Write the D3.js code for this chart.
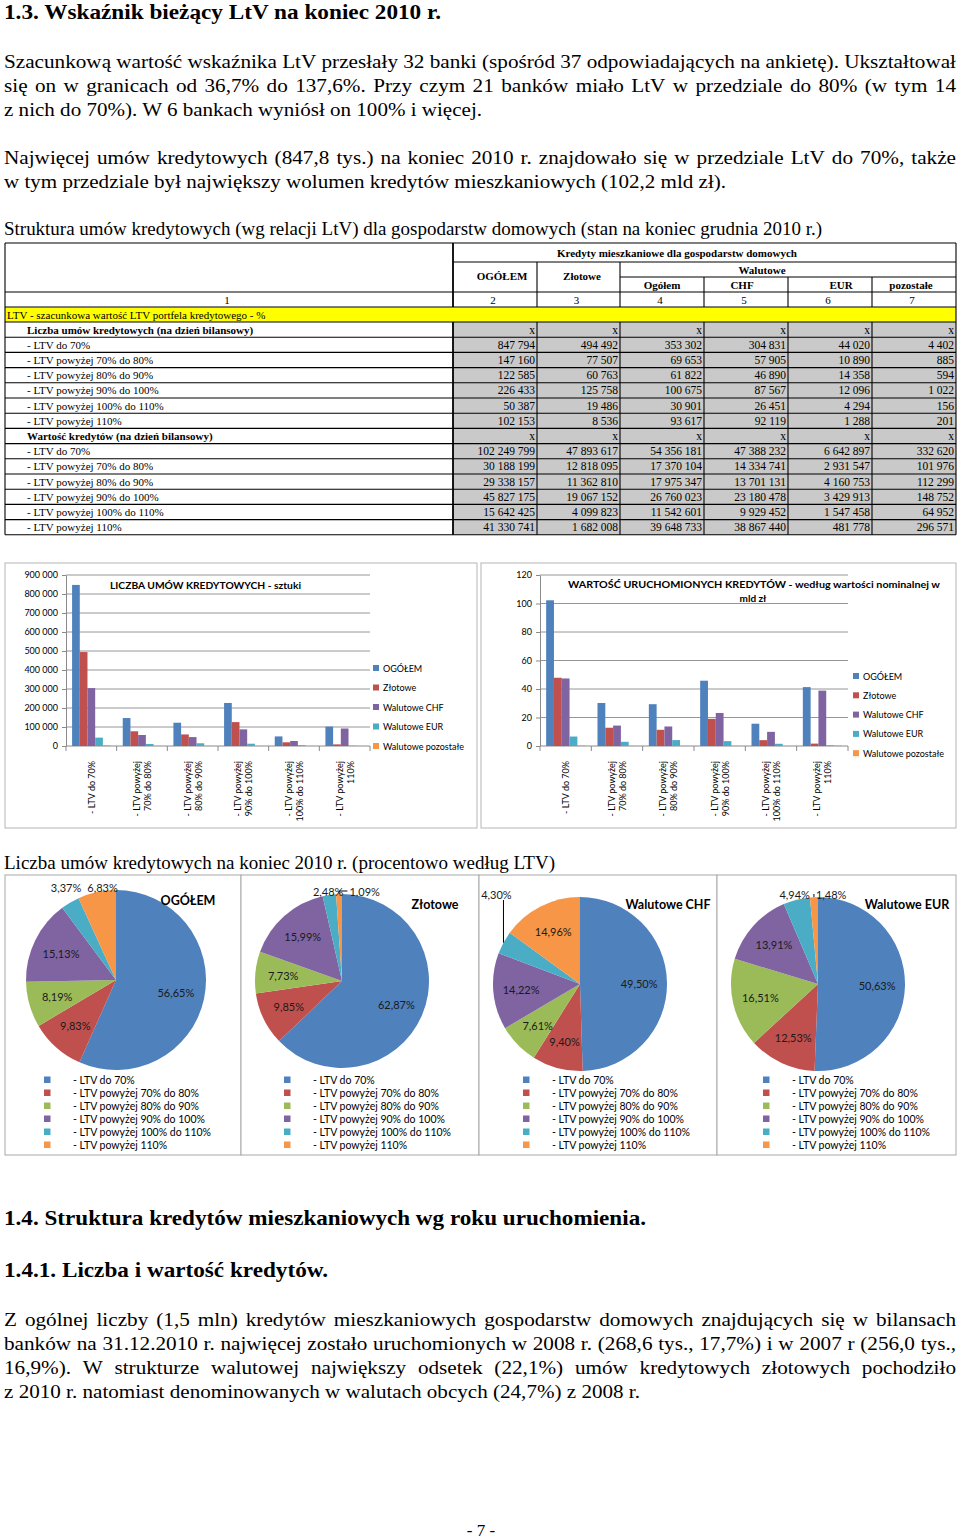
<!DOCTYPE html>
<html><head><meta charset="utf-8">
<script src="https://cdn.jsdelivr.net/npm/d3@7"></script>
<style>body{margin:0;background:#fff} svg{display:block}</style>
</head><body><svg id="page" width="960" height="1539"></svg>
<script>
// ---------------- DATA ----------------
const ltvLabels = ["- LTV do 70%","- LTV powyżej 70% do 80%","- LTV powyżej 80% do 90%","- LTV powyżej 90% do 100%","- LTV powyżej 100% do 110%","- LTV powyżej 110%"];
const ltvAxisLines = [["- LTV do 70%"],["- LTV powyżej","70% do 80%"],["- LTV powyżej","80% do 90%"],["- LTV powyżej","90% do 100%"],["- LTV powyżej","100% do 110%"],["- LTV powyżej","110%"]];
const colNumbers = ["1","2","3","4","5","6","7"];
const countOgolem    = [847794,147160,122585,226433,50387,102153];
const countZlotowe   = [494492,77507,60763,125758,19486,8536];
const countWalutowe  = [353302,69653,61822,100675,30901,93617];
const countCHF       = [304831,57905,46890,87567,26451,92119];
const countEUR       = [44020,10890,14358,12096,4294,1288];
const countPozostale = [4402,885,594,1022,156,201];
const valueOgolem    = [102249799,30188199,29338157,45827175,15642425,41330741];
const valueZlotowe   = [47893617,12818095,11362810,19067152,4099823,1682008];
const valueWalutowe  = [54356181,17370104,17975347,26760023,11542601,39648733];
const valueCHF       = [47388232,14334741,13701131,23180478,9929452,38867440];
const valueEUR       = [6642897,2931547,4160753,3429913,1547458,481778];
const valuePozostale = [332620,101976,112299,148752,64952,296571];
const barSeries = ["OGÓŁEM","Złotowe","Walutowe CHF","Walutowe EUR","Walutowe pozostałe"];
const countTicks = [0,100000,200000,300000,400000,500000,600000,700000,800000,900000];
const valueTicks = [0,20,40,60,80,100,120];
const pieTitles = ["OGÓŁEM","Złotowe","Walutowe CHF","Walutowe EUR"];

// ---------------- STYLE ----------------
const SERIF = "'Liberation Serif','Times New Roman',serif";
const SANS = "Lato,'Open Sans',sans-serif";
const barColors = ["#4F81BD","#C0504D","#8064A2","#4BACC6","#F79646"];
const pieColors = ["#4F81BD","#C0504D","#9BBB59","#8064A2","#4BACC6","#F79646"];
const pl = d3.formatLocale({decimal:",", thousands:" ", grouping:[3], currency:["",""]});
const fmtInt = pl.format(",d");
const fmtPct = pl.format(".2%");

const svg = d3.select("#page");
svg.append("rect").attr("width",960).attr("height",1539).attr("fill","#fff");

function natWidth(text, size, weight, family) {
  const t = svg.append("text").attr("font-family", family||SERIF).attr("font-size", size)
    .attr("font-weight", weight||"normal").text(text);
  const w = t.node().getComputedTextLength(); t.remove(); return w;
}

// ---------------- PAGE TEXT ----------------
const pageLines = [
  {t:"1.3. Wskaźnik bieżący LtV na koniec 2010 r.", y:19, size:21, bold:true, w:437},
  {t:"Szacunkową wartość wskaźnika LtV przesłały 32 banki (spośród 37 odpowiadających na ankietę). Ukształtował", y:68, size:19, just:true},
  {t:"się on w granicach od 36,7% do 137,6%. Przy czym 21 banków miało LtV w przedziale do 80% (w tym 14", y:92, size:19, just:true},
  {t:"z nich do 70%). W 6 bankach wyniósł on 100% i więcej.", y:116, size:19, w:478},
  {t:"Najwięcej umów kredytowych (847,8 tys.) na koniec 2010 r. znajdowało się w przedziale LtV do 70%, także", y:164, size:19, just:true},
  {t:"w tym przedziale był największy wolumen kredytów mieszkaniowych (102,2 mld zł).", y:188, size:19, w:722},
  {t:"Struktura umów kredytowych (wg relacji LtV) dla gospodarstw domowych (stan na koniec grudnia 2010 r.)", y:235, size:19, w:818},
  {t:"Liczba umów kredytowych na koniec 2010 r. (procentowo według LTV)", y:869, size:19, w:551},
  {t:"1.4. Struktura kredytów mieszkaniowych wg roku uruchomienia.", y:1225, size:21, bold:true, w:642},
  {t:"1.4.1. Liczba i wartość kredytów.", y:1277, size:21, bold:true, w:324},
  {t:"Z ogólnej liczby (1,5 mln) kredytów mieszkaniowych gospodarstw domowych znajdujących się w bilansach", y:1326, size:19, just:true},
  {t:"banków na 31.12.2010 r. najwięcej zostało uruchomionych w 2008 r. (268,6 tys., 17,7%) i w 2007 r (256,0 tys.,", y:1350, size:19, just:true},
  {t:"16,9%). W strukturze walutowej największy odsetek (22,1%) umów kredytowych złotowych pochodziło", y:1374, size:19, just:true},
  {t:"z 2010 r. natomiast denominowanych w walutach obcych (24,7%) z 2008 r.", y:1398, size:19, w:636}
];
const justLines = pageLines.filter(L => L.just);
const sj = d3.min(justLines, L => 952 / natWidth(L.t, L.size));
pageLines.forEach(L => {
  const weight = L.bold ? "bold" : "normal";
  if (L.just) {
    const words = L.t.split(" ");
    const ws = words.map(w => natWidth(w, L.size, weight) * sj);
    const gap = (952 - d3.sum(ws)) / (words.length - 1);
    let x = 4;
    words.forEach((w, i) => {
      svg.append("text").attr("x", x).attr("y", L.y).attr("font-family", SERIF).attr("font-size", L.size)
        .attr("font-weight", weight).attr("textLength", ws[i]).attr("lengthAdjust", "spacingAndGlyphs").text(w);
      x += ws[i] + gap;
    });
  } else {
    svg.append("text").attr("x", 4).attr("y", L.y).attr("font-family", SERIF).attr("font-size", L.size)
      .attr("font-weight", weight).attr("textLength", L.w).attr("lengthAdjust", "spacingAndGlyphs").text(L.t);
  }
});
svg.append("text").attr("x", 481).attr("y", 1536).attr("text-anchor","middle").attr("font-family", SERIF)
  .attr("font-size", 17).text("- 7 -");

// ---------------- TABLE ----------------
(function drawTable(){
  const g = svg.append("g");
  const L = 5, R = 956, LR = 453;
  const cols = [453,537,620,704,788,872,956];
  const yTop = 243, yH1 = 262, yH2 = 277, yNum = 292, yYel = 307, yData = 322, rowH = 15.2;
  const rows = [{label:"Liczba umów kredytowych (na dzień bilansowy)", bold:true, vals:null}];
  ltvLabels.forEach((l,i) => rows.push({label:l, vals:[countOgolem[i],countZlotowe[i],countWalutowe[i],countCHF[i],countEUR[i],countPozostale[i]]}));
  rows.push({label:"Wartość kredytów (na dzień bilansowy)", bold:true, vals:null});
  ltvLabels.forEach((l,i) => rows.push({label:l, vals:[valueOgolem[i],valueZlotowe[i],valueWalutowe[i],valueCHF[i],valueEUR[i],valuePozostale[i]]}));
  const yBot = yData + rows.length * rowH;

  g.append("rect").attr("x", LR).attr("y", yData).attr("width", R - LR).attr("height", yBot - yData).attr("fill", "#c9c9c9");
  g.append("rect").attr("x", L).attr("y", yYel).attr("width", R - L).attr("height", yData - yYel).attr("fill", "#ffff00");

  const line = (x1,y1,x2,y2,w) => g.append("line").attr("x1",x1).attr("y1",y1).attr("x2",x2).attr("y2",y2)
    .attr("stroke","#000").attr("stroke-width", w||1.1);
  line(L, yTop, R, yTop); line(L, yBot, R, yBot); line(L, yTop, L, yBot); line(R, yTop, R, yBot);
  line(LR, yH1, R, yH1); line(cols[2], yH2, R, yH2);
  [yNum, yYel, yData].forEach(y => line(L, y, R, y));
  rows.forEach((r,i) => { if (i>0) line(L, yData + i*rowH, R, yData + i*rowH); });
  line(LR, yTop, LR, yYel, 1.8); line(LR, yData, LR, yBot, 1.8);
  [cols[1], cols[2]].forEach(x => { line(x, yH1, x, yYel); line(x, yData, x, yBot); });
  [cols[3], cols[4], cols[5]].forEach(x => { line(x, yH2, x, yYel); line(x, yData, x, yBot); });

  const txt = (x, y, s, opt) => g.append("text").attr("x", x).attr("y", y).attr("font-family", SERIF)
    .attr("font-size", (opt&&opt.size)||11).attr("font-weight", (opt&&opt.bold)?"bold":"normal")
    .attr("text-anchor", (opt&&opt.anchor)||"start").text(s);
  txt(677, (yTop+yH1)/2 + 4, "Kredyty mieszkaniowe dla gospodarstw domowych", {bold:true, anchor:"middle"});
  txt(502, (yH1+yNum)/2 + 3, "OGÓŁEM", {bold:true, anchor:"middle"});
  txt(582, (yH1+yNum)/2 + 3, "Złotowe", {bold:true, anchor:"middle"});
  txt(762, (yH1+yH2)/2 + 4, "Walutowe", {bold:true, anchor:"middle"});
  const subCenters = [662, 742, 841, 911];
  ["Ogółem","CHF","EUR","pozostałe"].forEach((s,i) => txt(subCenters[i], (yH2+yNum)/2 + 4, s, {bold:true, anchor:"middle"}));
  const numEdges = [L].concat(cols);
  colNumbers.forEach((s,i) => txt((numEdges[i]+numEdges[i+1])/2 - 2, (yNum+yYel)/2 + 4, s, {anchor:"middle"}));
  txt(7, (yYel+yData)/2 + 4, "LTV - szacunkowa wartość LTV portfela kredytowego - %");
  rows.forEach((r,i) => {
    const cy = yData + i*rowH + rowH/2 + 4;
    txt(27, cy, r.label, {bold:r.bold});
    for (let c = 0; c < 6; c++) {
      txt(cols[c+1] - 2, cy, r.vals ? fmtInt(r.vals[c]) : "x", {anchor:"end", size:11.5});
    }
  });
})();

// ---------------- BAR CHARTS ----------------
function drawBarChart(cfg) {
  const g = svg.append("g");
  g.append("rect").attr("x", cfg.box[0]).attr("y", cfg.box[1]).attr("width", cfg.box[2]).attr("height", cfg.box[3])
    .attr("fill", "#fff").attr("stroke", "#b5b5b5").attr("stroke-width", 1);
  const x = d3.scaleBand().domain(d3.range(ltvAxisLines.length)).range([cfg.x0, cfg.x1]).padding(0);
  const bw = x.bandwidth();
  const xi = d3.scaleBand().domain(barSeries).range([bw*0.12, bw*0.88]);
  const y = d3.scaleLinear().domain([0, cfg.max]).range([cfg.y0, cfg.y1]);
  g.selectAll("line.grid").data(cfg.ticks.filter(t => t > 0)).join("line").attr("class","grid")
    .attr("x1", cfg.x0).attr("x2", cfg.x1).attr("y1", d => y(d)).attr("y2", d => y(d))
    .attr("stroke", "#8a8a8a").attr("stroke-width", 0.9);
  const yg = g.append("g").attr("transform", `translate(${cfg.x0},0)`)
    .call(d3.axisLeft(y).tickValues(cfg.ticks).tickFormat(cfg.fmt).tickSize(4).tickSizeOuter(0).tickPadding(4));
  yg.select(".domain").attr("stroke", "#8a8a8a");
  yg.selectAll(".tick line").attr("stroke", "#8a8a8a");
  yg.selectAll(".tick text").attr("font-family", SANS).attr("font-size", 9).attr("fill", "#000");
  g.append("line").attr("x1", cfg.x0).attr("x2", cfg.x1).attr("y1", y(0)).attr("y2", y(0)).attr("stroke", "#8a8a8a");
  g.selectAll("line.xt").data(d3.range(ltvAxisLines.length + 1)).join("line").attr("class","xt")
    .attr("x1", d => cfg.x0 + d*x.step()).attr("x2", d => cfg.x0 + d*x.step())
    .attr("y1", y(0)).attr("y2", y(0) + 5).attr("stroke", "#8a8a8a");
  cfg.series.forEach((arr, s) => {
    g.selectAll(null).data(arr).join("rect")
      .attr("x", (d,i) => x(i) + xi(barSeries[s])).attr("width", xi.bandwidth())
      .attr("y", d => y(d)).attr("height", d => y(0) - y(d)).attr("fill", barColors[s]);
  });
  ltvAxisLines.forEach((lines, i) => {
    const cx = x(i) + bw/2;
    lines.forEach((ln, k) => {
      const off = (k - (lines.length - 1)/2) * 11;
      g.append("text").attr("transform", `translate(${cx + off},${cfg.labelY}) rotate(-90)`)
        .attr("text-anchor", "end").attr("dominant-baseline", "central")
        .attr("font-family", SANS).attr("font-size", 9).attr("fill", "#000").text(ln);
    });
  });
  cfg.title.forEach(tl => {
    g.append("text").attr("x", tl.x).attr("y", tl.y).attr("text-anchor", tl.anchor || "start")
      .attr("font-family", SANS).attr("font-size", 10).attr("font-weight", "bold")
      .attr("textLength", tl.w || null).attr("lengthAdjust", "spacingAndGlyphs").text(tl.t);
  });
  barSeries.forEach((s, i) => {
    const ly = cfg.legend.y + i * cfg.legend.dy;
    g.append("rect").attr("x", cfg.legend.x).attr("y", ly - 3).attr("width", 6).attr("height", 6).attr("fill", barColors[i]);
    g.append("text").attr("x", cfg.legend.x + 10).attr("y", ly).attr("dominant-baseline", "central")
      .attr("font-family", SANS).attr("font-size", 9).attr("fill", "#000").text(s);
  });
}

drawBarChart({
  box:[5,563,472,265], x0:66, x1:370, y0:746, y1:575, max:900000, ticks:countTicks, fmt:fmtInt,
  series:[countOgolem, countZlotowe, countCHF, countEUR, countPozostale],
  labelY:761,
  title:[{t:"LICZBA UMÓW KREDYTOWYCH - sztuki", x:110, y:589, w:191}],
  legend:{x:373, y:668, dy:19.5}
});
drawBarChart({
  box:[481,563,475,265], x0:540, x1:848, y0:746, y1:575, max:120, ticks:valueTicks, fmt:d3.format("d"),
  series:[valueOgolem, valueZlotowe, valueCHF, valueEUR, valuePozostale].map(a => a.map(v => v/1e6)),
  labelY:761,
  title:[{t:"WARTOŚĆ URUCHOMIONYCH KREDYTÓW - według wartości nominalnej w", x:754, y:588, anchor:"middle", w:372},
         {t:"mld zł", x:753, y:602, anchor:"middle"}],
  legend:{x:853, y:676, dy:19.3}
});

// ---------------- PIE CHARTS ----------------
const pieData = [countOgolem, countZlotowe, countCHF, countEUR];
const pieLayout = [
  {px:5,   pw:236, cx:116, cy:980, r:90, tx:188, ty:905, lx:44},
  {px:241, pw:238, cx:342, cy:981, r:87, tx:435, ty:909, lx:284},
  {px:479, pw:238, cx:580, cy:984, r:87, tx:668, ty:909, lx:523},
  {px:717, pw:239, cx:818, cy:984, r:87, tx:907, ty:909, lx:763}
];
pieData.forEach((vals, k) => {
  const P = pieLayout[k];
  const g = svg.append("g");
  g.append("rect").attr("x", P.px).attr("y", 875).attr("width", P.pw).attr("height", 280)
    .attr("fill", "#fff").attr("stroke", "#a8a8a8");
  const total = d3.sum(vals);
  const arcs = d3.pie().sort(null)(vals);
  const arc = d3.arc().innerRadius(0).outerRadius(P.r);
  const inner = d3.arc().innerRadius(P.r*0.68).outerRadius(P.r*0.68);
  const gp = g.append("g").attr("transform", `translate(${P.cx},${P.cy})`);
  gp.selectAll("path").data(arcs).join("path").attr("d", arc).attr("fill", (d,i) => pieColors[i]);
  const outs = [];
  arcs.forEach((a, i) => {
    const share = a.value / total;
    const label = fmtPct(share);
    const mid = (a.startAngle + a.endAngle) / 2;
    if (share >= 0.07) {
      const c = inner.centroid(a);
      gp.append("text").attr("x", c[0]).attr("y", c[1]).attr("text-anchor", "middle").attr("dominant-baseline", "central")
        .attr("font-family", SANS).attr("font-size", 11).attr("fill", "#1a1a1a").text(label);
    } else {
      const nx = (P.r + 8) * Math.sin(mid), ny = -(P.r + 8) * Math.cos(mid);
      const w = natWidth(label, 11, "normal", SANS);
      outs.push({label, mid, nx, ny, w, x:nx, y:-P.r - 3});
    }
  });
  for (let i = 1; i < outs.length; i++) {
    const p = outs[i-1], o = outs[i];
    if (o.x - p.x < p.w/2 + o.w/2 + 4) o.x = p.x + p.w/2 + o.w/2 + 6;
  }
  outs.forEach(o => {
    const dist = Math.hypot(o.x - o.nx, o.y - o.ny);
    if (dist > 14) {
      const ax = P.r * Math.sin(o.mid), ay = -P.r * Math.cos(o.mid);
      let pts;
      if (ax > o.x - o.w/2 && ax < o.x + o.w/2) pts = [[ax, ay], [ax, o.y + 6]];
      else {
        const ex = ax < o.x ? o.x - o.w/2 - 2 : o.x + o.w/2 + 2;
        pts = [[ax, ay], [ax, o.y], [ex, o.y]];
      }
      gp.append("polyline").attr("points", pts.map(p => p.join(",")).join(" "))
        .attr("fill", "none").attr("stroke", "#000").attr("stroke-width", 1);
    }
    gp.append("text").attr("x", o.x).attr("y", o.y).attr("text-anchor", "middle").attr("dominant-baseline", "central")
      .attr("font-family", SANS).attr("font-size", 11).attr("fill", "#1a1a1a").text(o.label);
  });
  g.append("text").attr("x", P.tx).attr("y", P.ty).attr("text-anchor", "middle")
    .attr("font-family", SANS).attr("font-size", 12.5).attr("font-weight", "bold").text(pieTitles[k]);
  ltvLabels.forEach((l, i) => {
    const ly = 1080 + i * 13;
    g.append("rect").attr("x", P.lx).attr("y", ly - 3.5).attr("width", 6.5).attr("height", 6.5).attr("fill", pieColors[i]);
    g.append("text").attr("x", P.lx + 29).attr("y", ly).attr("dominant-baseline", "central")
      .attr("font-family", SANS).attr("font-size", 10.5).attr("fill", "#000").text(l);
  });
});
</script></body></html>
